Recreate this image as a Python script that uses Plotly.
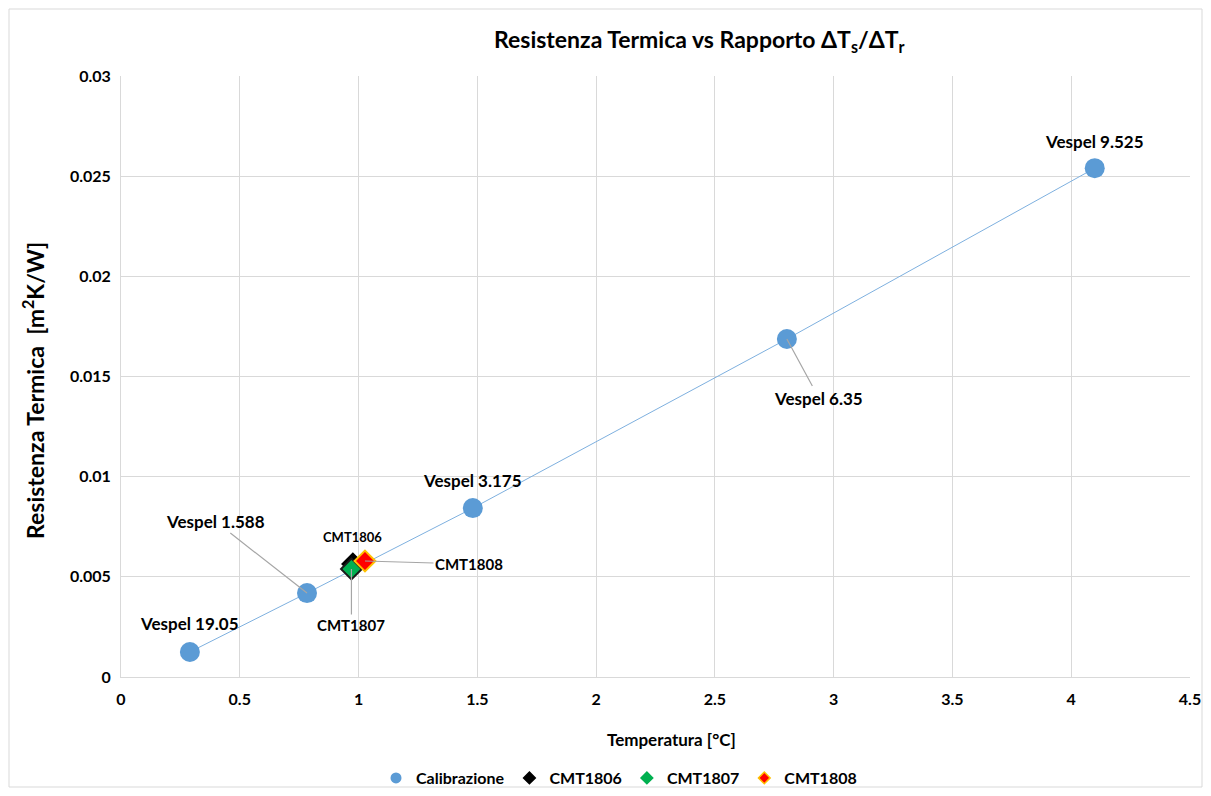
import plotly.graph_objects as go

# Data
cal_x = [0.29, 0.783, 1.481, 2.803, 4.099]
cal_y = [0.00125, 0.00419, 0.00843, 0.01687, 0.0254]
cal_labels = ["Vespel 19.05", "Vespel 1.588", "Vespel 3.175", "Vespel 6.35", "Vespel 9.525"]

cmt_names = ["CMT1806", "CMT1807", "CMT1808"]
cmt_x = [0.976, 0.970, 1.027]
cmt_y = [0.00564, 0.00539, 0.00579]
cmt_fill = ["#000000", "#00B050", "#FF0000"]
cmt_line = ["#000000", "#1a1a1a", "#FFC000"]
cmt_legend_line = ["#000000", "#00B050", "#FFC000"]

x_ticks = [0, 0.5, 1, 1.5, 2, 2.5, 3, 3.5, 4, 4.5]
y_ticks = [0, 0.005, 0.01, 0.015, 0.02, 0.025, 0.03]

FONT = "Lato"
W, H = 1195, 780          # page body has an 8px margin
L, R, T, B = 113, 13, 68, 111
PW, PH = W - L - R, H - T - B


def px(xp):
    return (xp - 121) / PW


def py(yp):
    return (677 - yp) / PH


fig = go.Figure()

fig.add_trace(go.Scatter(x=cal_x, y=cal_y, mode="lines",
                         line=dict(color="#7EB0DF", width=1),
                         showlegend=False, hoverinfo="skip"))
fig.add_trace(go.Scatter(x=cal_x, y=cal_y, mode="markers", name="Calibrazione",
                         showlegend=False,
                         marker=dict(size=20, color="#5B9BD5", line=dict(width=0))))
for n, x, y, f, l in zip(cmt_names, cmt_x, cmt_y, cmt_fill, cmt_line):
    fig.add_trace(go.Scatter(x=[x], y=[y], mode="markers", name=n, showlegend=False,
                             marker=dict(symbol="diamond", size=16, color=f,
                                         line=dict(color=l, width=2))))

# legend entries (smaller symbols, like the reference legend)
fig.add_trace(go.Scatter(x=[None], y=[None], mode="markers", name="<b>Calibrazione</b>",
                         marker=dict(size=11, color="#5B9BD5", line=dict(width=0))))
for n, f, l in zip(cmt_names, cmt_fill, cmt_legend_line):
    fig.add_trace(go.Scatter(x=[None], y=[None], mode="markers", name="<b>%s</b>" % n,
                             marker=dict(symbol="diamond", size=9, color=f,
                                         line=dict(color=l, width=1.5))))

ann_font = dict(family=FONT, size=17, color="#000000")
ann = []
cal_offsets = [(0, -28, False), (-92, -72, True), (0, -28, False), (32, 59, True), (0, -27, False)]
for x, y, t, (ax, ay, arr) in zip(cal_x, cal_y, cal_labels, cal_offsets):
    ann.append(dict(x=x, y=y, xref="x", yref="y", text="<b>%s</b>" % t,
                    showarrow=True, ax=ax, ay=ay, arrowhead=0, arrowwidth=1.2,
                    arrowcolor="#A6A6A6" if arr else "rgba(0,0,0,0)",
                    standoff=0, font=ann_font))
cmt_offsets = [(0, -27, False), (0, 56, True), (104, 3, True)]
for x, y, t, (ax, ay, arr) in zip(cmt_x, cmt_y, cmt_names, cmt_offsets):
    ann.append(dict(x=x, y=y, xref="x", yref="y", text="<b>%s</b>" % t,
                    showarrow=True, ax=ax, ay=ay, arrowhead=0, arrowwidth=1.2,
                    arrowcolor="#A6A6A6" if arr else "rgba(0,0,0,0)",
                    standoff=0,
                    font=dict(family=FONT, size=13 if t == "CMT1806" else 15, color="#000000")))

# Titles as positioned text
ann.append(dict(x=px(699), y=py(40), xref="paper", yref="paper", showarrow=False,
                xanchor="center", yanchor="middle",
                text="<b>Resistenza Termica vs Rapporto ΔT<sub>s</sub>/ΔT<sub>r</sub></b>",
                font=dict(family=FONT, size=23, color="#000000")))
ann.append(dict(x=px(671), y=py(739), xref="paper", yref="paper", showarrow=False,
                xanchor="center", yanchor="middle",
                text="<b>Temperatura [°C]</b>",
                font=dict(family=FONT, size=17, color="#000000")))
ann.append(dict(x=px(33), y=py(391), xref="paper", yref="paper", showarrow=False,
                xanchor="center", yanchor="middle", textangle=-90,
                text="<b>Resistenza Termica  [m<sup>2</sup>K/W]</b>",
                font=dict(family=FONT, size=23, color="#000000")))
fig.update_layout(annotations=ann)

fig.update_layout(
    width=W, height=H,
    paper_bgcolor="white", plot_bgcolor="white",
    margin=dict(l=L, r=R, t=T, b=B, autoexpand=False),
    font=dict(family=FONT, color="#000000"),
    xaxis=dict(range=[0, 4.5], tickvals=x_ticks,
               ticktext=["<b>%g</b>" % v for v in x_ticks],
               showgrid=True, gridcolor="#D9D9D9", gridwidth=1, zeroline=False,
               showline=True, linecolor="#D9D9D9",
               ticks="outside", ticklen=8, tickcolor="rgba(0,0,0,0)",
               tickfont=dict(family=FONT, size=16, color="#000000")),
    yaxis=dict(range=[0, 0.03], tickvals=y_ticks,
               ticktext=["<b>%g</b>" % v for v in y_ticks],
               showgrid=True, gridcolor="#D9D9D9", gridwidth=1, zeroline=False,
               showline=True, linecolor="#D9D9D9",
               ticks="outside", ticklen=6, tickcolor="rgba(0,0,0,0)",
               tickfont=dict(family=FONT, size=16, color="#000000")),
    legend=dict(orientation="h", x=px(619), xanchor="center", y=py(778), yanchor="middle",
                font=dict(family=FONT, size=16, color="#000000"),
                bgcolor="rgba(0,0,0,0)",
                itemsizing="trace", traceorder="normal", itemwidth=30,
                tracegroupgap=0),
    shapes=[dict(type="rect", xref="paper", yref="paper", layer="below",
                 x0=-(L - 1) / PW, x1=1 + (R - 1) / PW, y0=-(B - 1) / PH, y1=1 + (T - 1) / PH,
                 line=dict(color="#D9D9D9", width=1), fillcolor="rgba(0,0,0,0)")],
)

fig.write_html("out.html")
